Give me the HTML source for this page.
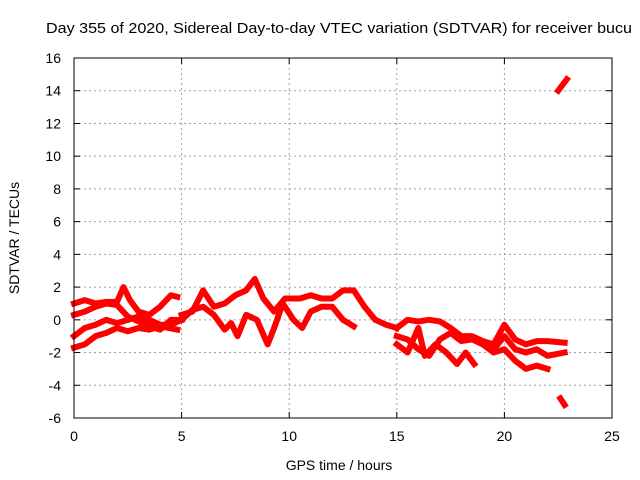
<!DOCTYPE html>
<html><head><meta charset="utf-8"><style>
body{margin:0;background:#fff;}
svg{display:block;font-family:"Liberation Sans",sans-serif;}
</style></head><body>
<svg id="chart" width="640" height="480">
<rect width="640" height="480" fill="#fff"/>
<text x="46" y="33" font-size="15" textLength="586" lengthAdjust="spacingAndGlyphs">Day 355 of 2020, Sidereal Day-to-day VTEC variation (SDTVAR) for receiver bucu</text>
<g id="grid"></g><g id="series"></g><g id="axes"></g>
<text x="339" y="470" font-size="14" text-anchor="middle">GPS time / hours</text>
<text transform="translate(19,238) rotate(-90)" font-size="14" text-anchor="middle">SDTVAR / TECUs</text>
</svg>
<script>
const xTicks=[0,5,10,15,20,25];
const yTicks=[-6,-4,-2,0,2,4,6,8,10,12,14,16];
const track1=[[0,1.0],[0.5,1.2],[1,1.0],[1.5,1.1],[2,1.1],[2.3,2.0],[2.6,1.2],[3,0.5],[3.5,0.3],[4,0.8],[4.5,1.5],[4.8,1.4]];
const track2=[[0,0.3],[0.5,0.5],[1,0.8],[1.5,1.0],[2,0.9],[2.5,0.2],[3,-0.1],[3.5,-0.4],[4,-0.6],[4.5,0.0],[5,0.0]];
const track3=[[0,-1.0],[0.5,-0.5],[1,-0.3],[1.5,0.0],[2,-0.2],[2.5,0.0],[3,0.2],[3.5,0.0],[4,-0.3],[4.5,-0.3],[5,0.0]];
const track4=[[0,-1.7],[0.5,-1.5],[1,-1.0],[1.5,-0.8],[2,-0.5],[2.5,-0.7],[3,-0.5],[3.5,-0.6],[4,-0.4],[4.8,-0.6]];
const track5=[[5,0.3],[5.5,0.5],[6,1.8],[6.5,0.8],[7,1.0],[7.5,1.5],[8,1.8],[8.4,2.5],[8.8,1.3],[9.3,0.5],[9.8,1.3],[10.5,1.3],[11,1.5],[11.5,1.3],[12,1.3],[12.5,1.8],[13,1.8],[13.5,0.8],[14,0.0],[14.5,-0.3],[15,-0.5]];
const track6=[[5,0.0],[5.5,0.6],[6,0.8],[6.5,0.3],[7,-0.6],[7.3,-0.2],[7.6,-1.0],[8,0.3],[8.5,0.0],[9,-1.5],[9.3,-0.5],[9.7,1.0],[10.2,0.0],[10.6,-0.5],[11,0.5],[11.5,0.8],[12,0.8],[12.5,0.0],[13,-0.4]];
const track7=[[15,-0.5],[15.5,0.0],[16,-0.1],[16.5,0.0],[17,-0.1],[17.5,-0.5],[18,-1.0],[18.5,-1.0],[19,-1.3],[19.5,-1.5],[20,-0.3],[20.5,-1.2],[21,-1.5],[21.5,-1.3],[22,-1.3],[22.8,-1.4]];
const track8=[[15,-1.5],[15.5,-2.0],[16,-0.5],[16.3,-2.2],[16.8,-1.5],[17.3,-2.0],[17.8,-2.7],[18.2,-2.0],[18.6,-2.7]];
const track9=[[15,-1.0],[15.5,-1.2],[16,-1.8],[16.5,-2.2],[17,-1.2],[17.5,-0.8],[18,-1.3],[18.5,-1.2],[19,-1.5],[19.5,-2.0],[20,-1.8],[20.5,-2.5],[21,-3.0],[21.5,-2.8],[22,-3.0]];
const track10=[[19.5,-1.8],[20,-1.0],[20.5,-1.8],[21,-2.0],[21.5,-1.8],[22,-2.2],[22.8,-2.0]];
const track11=[[22.5,14.0],[22.9,14.7]];
const track12=[[22.6,-4.8],[22.8,-5.2]];
const tracks=[track1,track2,track3,track4,track5,track6,track7,track8,track9,track10,track11,track12];
const X0=74,X1=612,Y0=418,Y1=58,XMIN=0,XMAX=25,YMIN=-6,YMAX=16;
const sx=v=>X0+(v-XMIN)/(XMAX-XMIN)*(X1-X0);
const sy=v=>Y0-(v-YMIN)/(YMAX-YMIN)*(Y0-Y1);
const NS="http://www.w3.org/2000/svg";
function mk(t,a,p){const e=document.createElementNS(NS,t);for(const k in a)e.setAttribute(k,a[k]);p.appendChild(e);return e;}
const grid=document.getElementById('grid'),axes=document.getElementById('axes'),ser=document.getElementById('series');
xTicks.forEach(t=>{
 const x=sx(t);
 if(t>XMIN&&t<XMAX){const g=mk('line',{x1:x,x2:x,y1:Y1,y2:Y0,stroke:'#a0a0a0','stroke-dasharray':'2,3'},grid);
 
 }
 mk('line',{x1:x,x2:x,y1:Y0,y2:Y0-6,stroke:'#000'},axes);
 mk('line',{x1:x,x2:x,y1:Y1,y2:Y1+6,stroke:'#000'},axes);
 const l=mk('text',{x:x,y:Y0+23,'font-size':14,'text-anchor':'middle'},axes);l.textContent=t;
 
 
});
yTicks.forEach(t=>{
 const y=sy(t);
 if(t>YMIN&&t<YMAX){const g=mk('line',{x1:X0,x2:X1,y1:y,y2:y,stroke:'#a0a0a0','stroke-dasharray':'2,3'},grid);
 
 }
 mk('line',{x1:X0,x2:X0+6,y1:y,y2:y,stroke:'#000'},axes);
 mk('line',{x1:X1,x2:X1-6,y1:y,y2:y,stroke:'#000'},axes);
 const l=mk('text',{x:X0-13,y:y+5,'font-size':14,'text-anchor':'end'},axes);l.textContent=t;
 
 
});
const fr=mk('rect',{x:X0,y:Y1,width:X1-X0,height:Y0-Y1,fill:'none',stroke:'#000'},axes);


tracks.forEach((tr,i)=>{
 const p=mk('polyline',{points:tr.map(d=>sx(d[0])+','+sy(d[1])).join(' '),fill:'none',stroke:'#ff0000','stroke-width':6,'stroke-linejoin':'round','stroke-linecap':'square'},ser);
 
 
});
</script>
</body></html>
